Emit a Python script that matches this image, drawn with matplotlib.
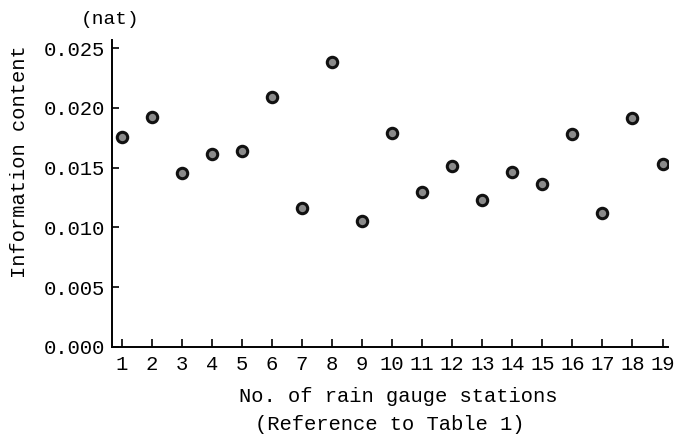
import numpy as np
import matplotlib.pyplot as plt

# Information content for each rain gauge station
stations = list(range(1, 20))
info = [0.01759, 0.01924, 0.01455, 0.01614, 0.01642, 0.02089, 0.01164,
        0.02382, 0.01053, 0.01792, 0.01293, 0.01513, 0.01229, 0.01463,
        0.01363, 0.01781, 0.01120, 0.01915, 0.01530]
yticks = [0.000, 0.005, 0.010, 0.015, 0.020, 0.025]

plt.rcParams['font.family'] = ['Liberation Mono', 'DejaVu Sans Mono']

fig = plt.figure(figsize=(6.74, 4.41), dpi=100)
ax = fig.add_axes([0.1662, 0.2132, 0.991 - 0.1662, 0.9093 - 0.2132])

ax.plot(stations, info, linestyle='none', marker='o', markersize=7.5,
        markerfacecolor='#8a8a8a', markeredgecolor='#111111', markeredgewidth=2.2)

ax.set_xlim(0.677, 19.18)
ax.set_ylim(0.0, 0.02567)
ax.set_xticks(stations)
ax.set_yticks(yticks)
ax.set_yticklabels([f'{v:.3f}' for v in yticks])

for s in ['top', 'right']:
    ax.spines[s].set_visible(False)
for s in ['left', 'bottom']:
    ax.spines[s].set_linewidth(1.4)

ax.tick_params(axis='both', direction='in', labelsize=14.8, width=1.2)
ax.tick_params(axis='y', length=5, pad=5)
ax.tick_params(axis='x', length=6, pad=6)

fig.text(110 / 674, 1 - 20 / 441, '(nat)', ha='center', va='center', fontsize=14)
fig.text(20 / 674, 1 - 162 / 441, 'Information content', rotation=90,
         ha='center', va='center', fontsize=14.7)
fig.text(398 / 674, 1 - 396 / 441, 'No. of rain gauge stations',
         ha='center', va='center', fontsize=14.8)
fig.text(390 / 674, 1 - 425 / 441, '(Reference to Table 1)',
         ha='center', va='center', fontsize=14.8)

fig.savefig('out.png', dpi=100)
